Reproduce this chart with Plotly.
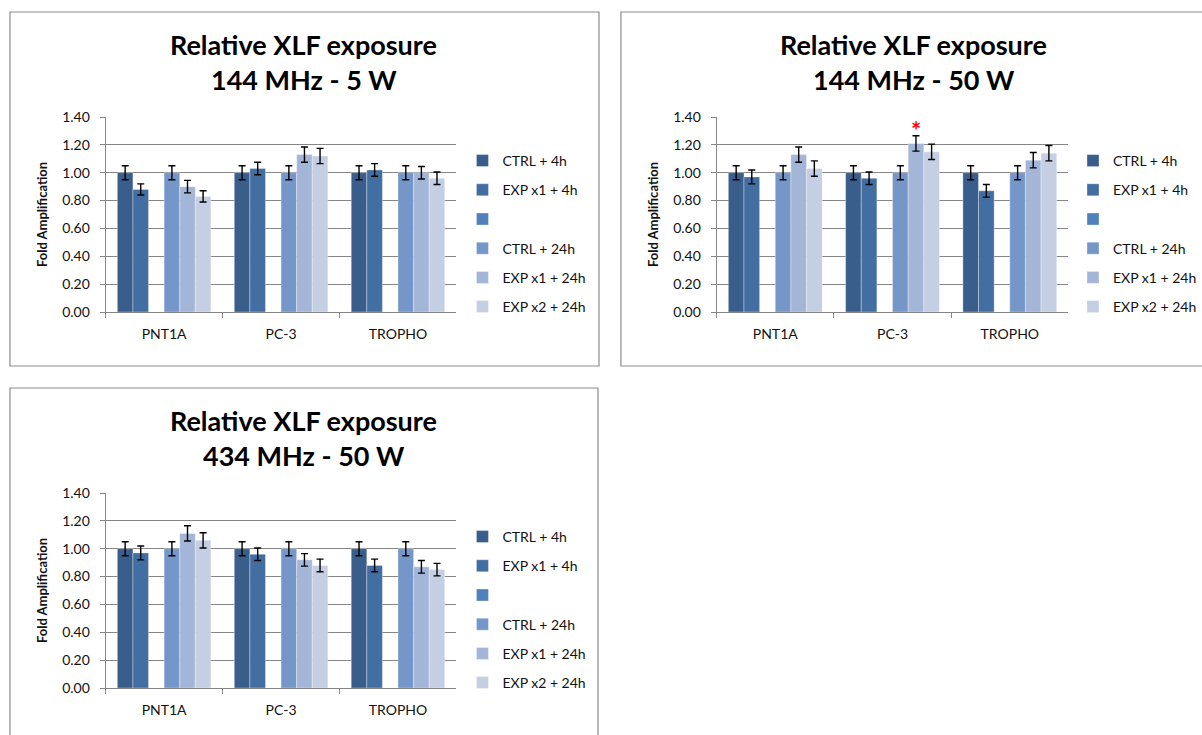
import plotly.graph_objects as go

W, H = 1202, 735

# ---- data -------------------------------------------------------------
categories = ["PNT1A", "PC-3", "TROPHO"]
series_names = ["CTRL + 4h", "EXP x1 + 4h", "", "CTRL + 24h", "EXP x1 + 24h", "EXP x2 + 24h"]
series_colors = ["#3A5E8C", "#426EA1", "#4F81BD", "#7596C8", "#A4B6D7", "#C4CFE4"]
y_ticks = [0.0, 0.2, 0.4, 0.6, 0.8, 1.0, 1.2, 1.4]

# 144 MHz - 5 W
a_ctrl_4h = [1.00, 1.00, 1.00]
a_exp1_4h = [0.88, 1.03, 1.02]
a_ctrl_24h = [1.00, 1.00, 1.00]
a_exp1_24h = [0.90, 1.13, 1.00]
a_exp2_24h = [0.83, 1.12, 0.96]
a_err_ctrl_4h = [0.05, 0.05, 0.05]
a_err_exp1_4h = [0.04, 0.045, 0.045]
a_err_ctrl_24h = [0.05, 0.05, 0.05]
a_err_exp1_24h = [0.045, 0.055, 0.045]
a_err_exp2_24h = [0.04, 0.055, 0.045]

# 144 MHz - 50 W
b_ctrl_4h = [1.00, 1.00, 1.00]
b_exp1_4h = [0.97, 0.96, 0.87]
b_ctrl_24h = [1.00, 1.00, 1.00]
b_exp1_24h = [1.13, 1.21, 1.09]
b_exp2_24h = [1.03, 1.15, 1.14]
b_err_ctrl_4h = [0.05, 0.05, 0.05]
b_err_exp1_4h = [0.05, 0.045, 0.045]
b_err_ctrl_24h = [0.05, 0.05, 0.05]
b_err_exp1_24h = [0.055, 0.055, 0.055]
b_err_exp2_24h = [0.055, 0.055, 0.055]

# 434 MHz - 50 W
c_ctrl_4h = [1.00, 1.00, 1.00]
c_exp1_4h = [0.97, 0.96, 0.88]
c_ctrl_24h = [1.00, 1.00, 1.00]
c_exp1_24h = [1.11, 0.92, 0.87]
c_exp2_24h = [1.06, 0.88, 0.85]
c_err_ctrl_4h = [0.05, 0.05, 0.05]
c_err_exp1_4h = [0.05, 0.045, 0.045]
c_err_ctrl_24h = [0.05, 0.05, 0.05]
c_err_exp1_24h = [0.055, 0.045, 0.045]
c_err_exp2_24h = [0.055, 0.045, 0.045]

empty_series = [None, None, None]

panel_titles = [
    ("Relative XLF exposure", "144 MHz - 5 W"),
    ("Relative XLF exposure", "144 MHz - 50 W"),
    ("Relative XLF exposure", "434 MHz - 50 W"),
]

panels = [
    ([a_ctrl_4h, a_exp1_4h, empty_series, a_ctrl_24h, a_exp1_24h, a_exp2_24h],
     [a_err_ctrl_4h, a_err_exp1_4h, None, a_err_ctrl_24h, a_err_exp1_24h, a_err_exp2_24h]),
    ([b_ctrl_4h, b_exp1_4h, empty_series, b_ctrl_24h, b_exp1_24h, b_exp2_24h],
     [b_err_ctrl_4h, b_err_exp1_4h, None, b_err_ctrl_24h, b_err_exp1_24h, b_err_exp2_24h]),
    ([c_ctrl_4h, c_exp1_4h, empty_series, c_ctrl_24h, c_exp1_24h, c_exp2_24h],
     [c_err_ctrl_4h, c_err_exp1_4h, None, c_err_ctrl_24h, c_err_exp1_24h, c_err_exp2_24h]),
]

# ---- layout geometry (pixels) ------------------------------------------
FONT = "Lato"
GRID = "#868686"
TEXT = "#111111"

# plot areas: (left, right, top, bottom)
plot_boxes = [(106, 458, 117, 312), (719, 1072, 117, 312), (106, 458, 493, 688)]
# chart frames: (left, right, top, bottom)
frames = [(10, 601, 12, 366), (623, 1210, 12, 366), (10, 600, 388, 745)]
# title centres: (x, y line 1, y line 2)
title_pos = [(305, 45, 79), (917, 45, 79), (305, 420, 455)]
# legend top-left anchors
legend_pos = [(464, 145), (1077, 145), (464, 521)]


def px(x):
    return x / W


def py(y):
    return 1 - y / H


fig = go.Figure()

for p, (values, errors) in enumerate(panels):
    ax = "" if p == 0 else str(p + 1)
    legend_id = "legend" if p == 0 else f"legend{p + 1}"
    for s, name in enumerate(series_names):
        err = errors[s]
        fig.add_trace(go.Bar(
            x=categories,
            y=values[s],
            name=name,
            marker=dict(color=series_colors[s], line=dict(color="rgba(255,255,255,0.55)", width=0.6)),
            error_y=dict(type="data", array=err, color="#000000", thickness=1.4, width=3.5,
                         visible=err is not None),
            xaxis="x" + ax,
            yaxis="y" + ax,
            legend=legend_id,
            legendgroup=f"p{p}s{s}",
            showlegend=True,
        ))

layout = dict(
    width=W,
    height=H,
    margin=dict(l=0, r=0, t=0, b=0),
    template="none",
    paper_bgcolor="white",
    plot_bgcolor="white",
    barmode="group",
    bargap=0.2,
    bargroupgap=0.0,
    font=dict(family=FONT, size=14, color=TEXT),
    shapes=[],
    annotations=[],
)

for p, (l, r, t, b) in enumerate(plot_boxes):
    ax = "" if p == 0 else str(p + 1)
    layout["xaxis" + ax] = dict(
        domain=[px(l), px(r)],
        anchor="y" + ax,
        type="category",
        range=[-0.5, 2.5],
        tickson="boundaries",
        ticks="outside",
        ticklen=5,
        tickcolor=GRID,
        showline=True,
        linecolor=GRID,
        linewidth=1,
        showgrid=False,
        zeroline=False,
        tickfont=dict(family=FONT, size=14, color=TEXT),
        ticklabelstandoff=9,
        automargin=False,
    )
    layout["yaxis" + ax] = dict(
        domain=[py(b), py(t)],
        anchor="x" + ax,
        range=[0, 1.4],
        tickvals=y_ticks,
        tickformat=".2f",
        ticks="outside",
        ticklen=5,
        tickcolor=GRID,
        showline=True,
        linecolor=GRID,
        linewidth=1,
        showgrid=True,
        gridcolor=GRID,
        gridwidth=1,
        zeroline=False,
        tickfont=dict(family=FONT, size=14, color=TEXT),
        ticklabelstandoff=7,
        title=dict(text="<b>Fold Amplification</b>", font=dict(family=FONT, size=13, color=TEXT),
                   standoff=11),
        automargin=False,
    )

    lx, ly = legend_pos[p]
    legend_id = "legend" if p == 0 else f"legend{p + 1}"
    layout[legend_id] = dict(
        x=px(lx), y=py(ly), xanchor="left", yanchor="top",
        xref="paper", yref="paper",
        font=dict(family=FONT, size=14, color=TEXT),
        tracegroupgap=8,
        itemwidth=30,
        bgcolor="rgba(0,0,0,0)",
        borderwidth=0,
        traceorder="grouped",
    )

    fl, fr, ft, fb = frames[p]
    layout["shapes"].append(dict(
        type="rect", xref="paper", yref="paper",
        x0=px(fl), x1=px(fr), y0=py(fb), y1=py(ft),
        line=dict(color="#8C8C8C", width=1.2), fillcolor="rgba(0,0,0,0)", layer="below",
    ))

    tx, ty1, ty2 = title_pos[p]
    for line_text, ty in zip(panel_titles[p], (ty1, ty2)):
        layout["annotations"].append(dict(
            text=f"<b>{line_text}</b>", xref="paper", yref="paper",
            x=px(tx), y=py(ty), xanchor="center", yanchor="middle",
            showarrow=False, font=dict(family=FONT, size=27, color="#000000"),
        ))

# significance marker on PC-3, EXP x1 + 24h (144 MHz - 50 W)
layout["annotations"].append(dict(
    text="<b>*</b>", xref="x2", yref="y2",
    x=1.2, y=1.30, xanchor="center", yanchor="middle",
    showarrow=False, font=dict(family=FONT, size=24, color="#FF0000"),
))

fig.update_layout(**layout)
fig.write_html("out.html")
